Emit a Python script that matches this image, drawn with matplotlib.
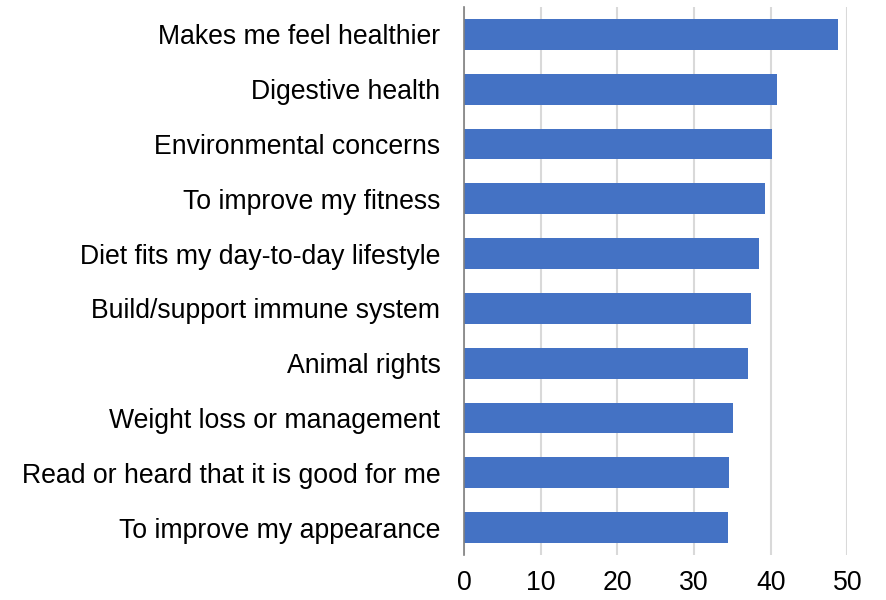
import matplotlib
matplotlib.use("Agg")
import matplotlib.pyplot as plt

categories = [
    "Makes me feel healthier",
    "Digestive health",
    "Environmental concerns",
    "To improve my fitness",
    "Diet fits my day-to-day lifestyle",
    "Build/support immune system",
    "Animal rights",
    "Weight loss or management",
    "Read or heard that it is good for me",
    "To improve my appearance",
]
values = [48.8, 40.8, 40.2, 39.2, 38.5, 37.5, 37.0, 35.1, 34.6, 34.5]
xticks = [0, 10, 20, 30, 40, 50]

plt.rcParams['font.family'] = ['Liberation Sans', 'DejaVu Sans']

fig = plt.figure(figsize=(8.87, 6.0), dpi=100)
ax = fig.add_axes([464/887, 1 - 555/600, (847.3 - 464)/887, (555 - 7)/600])

y = list(range(len(categories)))
ax.barh(y, values, height=0.56, color="#4472C4", zorder=3)
ax.set_ylim(len(categories) - 0.5, -0.5)
ax.set_xlim(0, 50)
ax.set_yticks(y)
ax.set_yticklabels(categories, fontsize=19.2, color="#000000")
ax.set_xticks(xticks)
ax.set_xticklabels([str(t) for t in xticks], fontsize=19.2, color="#000000")
ax.tick_params(axis='y', length=0, pad=17)
ax.tick_params(axis='x', length=0, pad=11)
ax.grid(axis='x', color="#d9d9d9", linewidth=1.5, zorder=0)
for s in ['top', 'right', 'bottom']:
    ax.spines[s].set_visible(False)
ax.spines['left'].set_color("#7f7f7f")
ax.spines['left'].set_linewidth(1.2)
ax.spines['left'].set_zorder(4)

fig.savefig("out.png", dpi=100)
